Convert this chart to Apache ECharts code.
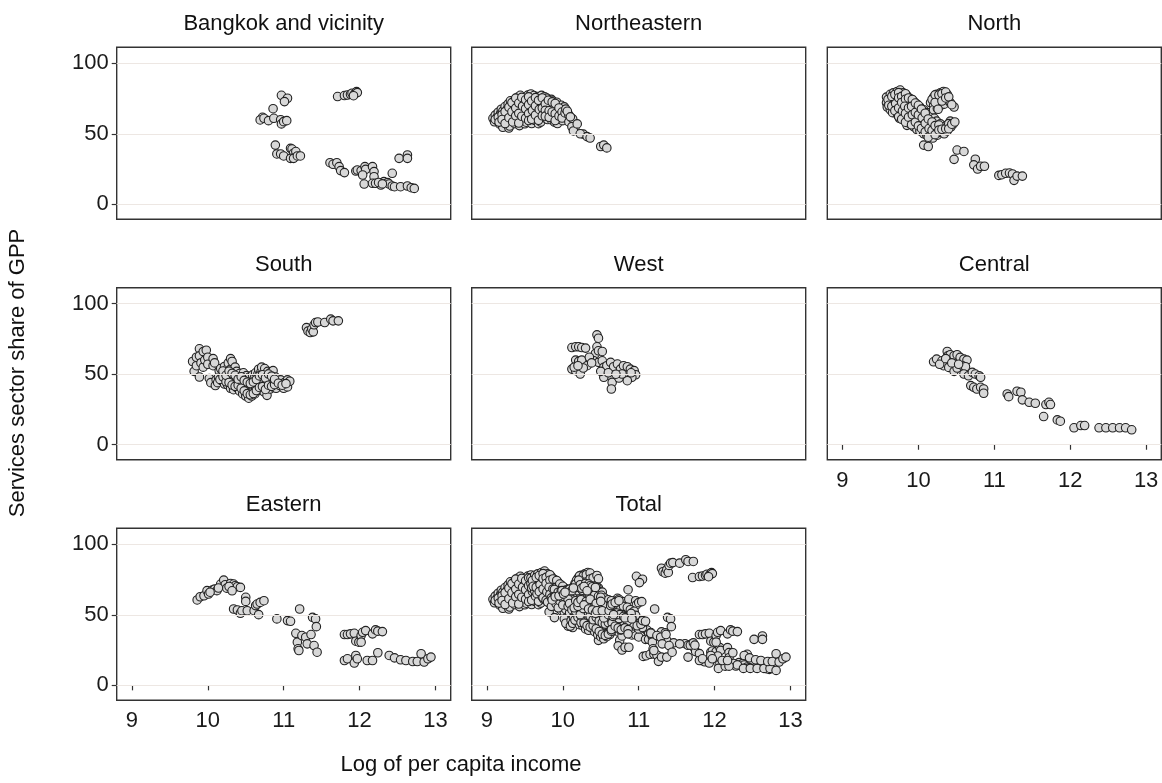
<!DOCTYPE html>
<html><head><meta charset="utf-8">
<script src="https://cdn.jsdelivr.net/npm/echarts@6/dist/echarts.min.js"></script>
<style>html,body{margin:0;padding:0;background:#fff}#c{width:1162px;height:783px}</style>
</head><body><div id="c"></div>
<script>
// ---- data ----
const panelTitles = ['Bangkok and vicinity','Northeastern','North','South','West','Central','Eastern','Total'];
const xTicks = [9,10,11,12,13];
const yTicks = [0,50,100];
const xTitle = 'Log of per capita income';
const yTitle = 'Services sector share of GPP';

const bangkok = [
[10.72,61.7],[10.69,59.8],[10.74,61],[10.80,59.3],[10.86,67.8],[10.87,61],[10.97,77.3],[11.05,75.2],[11.01,72.8],
[10.96,60],[10.97,57],[11.00,58.6],[11.04,59.3],[10.89,42],[10.91,35.7],[10.96,35.7],[11.00,34.3],[11.09,39.7],
[11.11,39.2],[11.13,36.2],[11.16,37.4],[11.09,32.6],[11.13,32.6],[11.18,34.3],[11.22,34.3],
[11.71,76.4],[11.80,77.1],[11.84,77.5],[11.88,78],[11.90,78.7],[11.93,78],[11.95,79.2],[11.96,79.9],[11.97,79.2],[11.92,77],
[11.61,29.5],[11.65,28.4],[11.70,29.5],[11.73,26.7],[11.75,23.9],[11.80,22.5],
[11.95,23.6],[11.97,24.3],[12.02,23.9],[12.07,26.7],[12.08,24.8],[12.04,20.8],[12.06,14.4],[12.17,26.7],[12.19,23.2],
[12.19,19.6],[12.17,14.9],[12.21,14.9],[12.28,13.7],[12.32,16.1],[12.37,15.4],[12.39,14.4],[12.43,13],[12.46,12.5],
[12.43,22],[12.52,32.6],[12.63,35],[12.63,32.6],[12.54,12.5],[12.63,13],[12.68,11.8],[12.72,11.3],[12.25,15.5],[12.30,14.5]
];

const northeastern = [
[9.08,61],[9.10,58.5],[9.11,63.2],[9.13,59.6],[9.14,62.1],[9.15,65.3],[9.17,60.4],[9.18,64.2],[9.19,67.4],[9.17,56.8],
[9.22,62.5],[9.21,66.1],[9.24,69.3],[9.23,58.2],[9.21,54.6],[9.26,64.4],[9.27,67.7],[9.28,71.2],[9.25,60.3],[9.27,56.4],[9.29,54.1],
[9.31,66.3],[9.32,70.2],[9.31,73.4],[9.33,62.2],[9.32,59.3],[9.30,55.5],[9.35,67.6],[9.36,71.3],[9.37,74.2],[9.34,64.1],[9.36,60.6],[9.37,57.2],
[9.39,69.5],[9.40,72.7],[9.41,76.1],[9.39,65.2],[9.40,61.3],[9.41,58.4],[9.43,70.3],[9.45,74.4],[9.44,77.3],[9.46,66.2],[9.44,63.1],[9.45,59.3],[9.43,55.8],
[9.48,68.4],[9.49,72.1],[9.50,75.6],[9.48,64.5],[9.49,60.3],[9.50,57.1],[9.53,70.2],[9.52,73.4],[9.54,77.4],[9.53,66.2],[9.55,62.4],[9.52,58.2],
[9.57,69.2],[9.58,75.3],[9.58,78.2],[9.57,65.1],[9.56,61.2],[9.59,57.3],[9.61,71.4],[9.62,74.2],[9.62,77.1],[9.60,67.4],[9.61,63.3],[9.63,59.5],
[9.66,68.2],[9.65,72.3],[9.67,76.4],[9.66,65.1],[9.67,61.3],[9.68,57.2],[9.70,70.4],[9.71,74.3],[9.72,77.2],[9.70,66.1],[9.69,62.4],[9.71,58.3],
[9.75,69.1],[9.74,73.2],[9.76,76.3],[9.75,65.2],[9.76,61.3],[9.79,68.4],[9.80,72.1],[9.79,75.3],[9.78,64.4],[9.80,60.1],
[9.84,67.3],[9.83,71.2],[9.85,74.4],[9.84,63.2],[9.85,59.8],[9.88,66.1],[9.89,70.3],[9.87,73.2],[9.88,62.4],[9.89,58.3],
[9.92,65.3],[9.93,69.1],[9.92,72.4],[9.91,61.2],[9.93,57.3],[9.97,64.1],[9.96,67.3],[9.98,70.2],[9.97,60.1],
[10.01,63.2],[10.02,66.4],[10.02,69.1],[10.00,59.3],
[9.11,60.2],[9.15,61.8],[9.16,58.3],[9.20,63.5],[9.20,60.1],[9.24,65.7],[9.24,57.3],[9.29,68.8],[9.29,61.4],[9.33,72.1],[9.33,65.6],
[9.34,58.4],[9.38,75.3],[9.38,68.2],[9.38,62.7],[9.42,71.8],[9.42,64.5],[9.42,57.6],[9.46,75.8],[9.47,69.6],[9.46,62.4],[9.51,74.1],
[9.51,67.8],[9.51,61.1],[9.55,76.2],[9.55,70.6],[9.55,64.3],[9.55,59.4],[9.59,73.2],[9.60,66.5],[9.59,60.3],[9.64,75.6],[9.64,69.8],
[9.64,63.2],[9.68,73.7],[9.69,67.3],[9.68,59.6],[9.73,75.4],[9.73,68.2],[9.73,62.8],[9.77,71.2],[9.77,66.6],[9.77,62.5],[9.81,73.8],
[9.82,66.3],[9.82,61.7],[9.86,72.6],[9.86,65.4],[9.90,71.5],[9.90,64.2],[9.90,59.4],[9.95,68.3],[9.95,62.6],[9.99,65.4],[9.99,61.2],
[10.03,64.8],[10.04,67.5],[10.08,63.4],[10.08,58.4],[10.16,54.3],[10.27,49.8],[10.13,60.6],
[10.06,66],[10.10,62],[10.12,55],[10.14,52],[10.19,57],[10.23,50],[10.32,48],[10.36,47],[10.50,41],[10.54,42],[10.58,40]
];

const north = [
[9.58,76],[9.58,72],[9.59,69],[9.63,78],[9.63,74],[9.62,71],[9.63,67],[9.67,79],[9.67,75],[9.68,72],[9.67,68],[9.66,65],
[9.72,80],[9.72,77],[9.72,73],[9.71,70],[9.72,66],[9.73,63],[9.76,81],[9.76,78],[9.76,74],[9.77,70],[9.76,67],[9.76,64],[9.75,61],
[9.80,79],[9.80,76],[9.81,72],[9.80,68],[9.80,65],[9.81,62],[9.85,77],[9.85,73],[9.85,70],[9.86,66],[9.85,63],[9.84,59],[9.85,56],
[9.89,75],[9.89,71],[9.89,68],[9.90,64],[9.89,61],[9.89,57],[9.94,73],[9.94,70],[9.94,66],[9.93,62],[9.94,59],[9.94,55],
[9.98,71],[9.98,68],[9.98,64],[9.99,60],[9.98,57],[9.98,53],[10.02,69],[10.02,65],[10.03,62],[10.02,58],[10.02,55],[10.02,52],
[10.07,67],[10.07,63],[10.07,60],[10.06,56],[10.07,53],[10.07,50],[10.11,65],[10.11,62],[10.11,58],[10.12,55],[10.11,52],[10.11,49],[10.07,42],
[10.16,72],[10.16,63],[10.16,60],[10.15,56],[10.16,53],[10.16,50],[10.13,41],
[10.20,76],[10.20,70],[10.20,67],[10.21,61],[10.20,57],[10.20,54],[10.20,51],[10.19,47],
[10.24,78],[10.24,74],[10.25,68],[10.24,59],[10.24,55],[10.24,52],[10.25,49],
[10.29,79],[10.29,76],[10.29,70],[10.29,57],[10.29,54],[10.28,51],[10.33,80],[10.33,77],[10.34,71],[10.33,55],[10.33,52],[10.34,50],
[10.38,78],[10.38,74],[10.37,56],[10.38,52],[10.42,72],[10.42,59],[10.43,55],[10.47,69],[10.46,57],
[9.60,74.3],[9.61,70.2],[9.65,76.5],[9.65,69.6],[9.69,77.8],[9.70,71.4],[9.69,66.4],[9.74,79.2],[9.74,75.5],[9.74,68.3],[9.74,62.2],
[9.78,76.5],[9.78,72.2],[9.79,66.2],[9.78,60.3],[9.83,78.4],[9.83,74.5],[9.82,69.5],[9.83,64.4],[9.83,58.2],[9.87,75.4],[9.87,68.3],
[9.87,61.8],[9.92,74.3],[9.91,69.4],[9.92,63.5],[9.91,56.4],[9.96,71.8],[9.96,65.2],[9.96,58.3],[10.00,70.2],[10.00,63.4],[10.00,55.6],
[10.04,67.5],[10.05,61.3],[10.04,53.8],[10.09,64.6],[10.09,57.4],[10.09,51.3],[10.13,60.5],[10.14,53.7],[10.13,47.6],[10.18,74.3],
[10.18,58.4],[10.18,52.4],[10.22,77.6],[10.22,72.2],[10.22,55.8],[10.22,49.4],[10.27,77.5],[10.26,67.4],[10.27,56.2],[10.27,52.6],
[10.31,78.4],[10.31,73.2],[10.31,53.2],[10.36,79.6],[10.36,75.4],[10.36,53.6],[10.40,76.2],[10.40,57.2],[10.40,53.6],[10.44,70.6],
[10.44,56.8],[10.48,58.4],
[10.51,38.5],[10.60,37.5],[10.47,31.9],[10.75,32],[10.73,28],[10.78,25],[10.82,27],[10.87,27],
[11.06,20.5],[11.10,21],[11.15,22],[11.20,22.2],[11.24,21.5],[11.26,17],[11.30,20],[11.37,20]
];

const south = [
[9.80,59],[9.82,52],[9.85,62],[9.85,56],[9.89,68],[9.89,63],[9.89,48],[9.91,58],[9.94,66],[9.94,55],[9.96,60],[9.98,67],
[10.00,62],[10.00,57],[10.02,47],[10.04,44],[10.07,61],[10.07,56],[10.09,58],[10.10,42],[10.11,46],
[10.14,48],[10.15,52.5],[10.13,44],[10.18,45.5],[10.19,50],[10.17,54],[10.22,43],[10.21,47.5],[10.23,51],[10.22,55.5],
[10.26,42.5],[10.27,46],[10.25,50.5],[10.26,54],[10.27,58],[10.30,40],[10.31,45.5],[10.29,49],[10.30,53.5],[10.30,61],[10.32,59],
[10.34,39],[10.35,43.5],[10.33,47],[10.34,51.5],[10.36,55],[10.38,40.5],[10.39,44],[10.37,48.5],[10.38,52],
[10.42,38],[10.43,42.5],[10.41,46],[10.42,50.5],[10.46,36],[10.47,40.5],[10.45,44],[10.46,48.5],[10.47,51],
[10.50,34.5],[10.51,38],[10.49,42.5],[10.50,46],[10.51,49],[10.54,33],[10.55,37.5],[10.53,41],[10.54,45.5],[10.55,48],
[10.58,34.5],[10.59,38],[10.57,42.5],[10.58,46],[10.59,49.5],[10.62,36],[10.63,40.5],[10.61,44],[10.62,48.5],[10.63,51],
[10.66,38.5],[10.67,42],[10.65,46.5],[10.66,50],[10.67,53.5],[10.70,39],[10.71,43.5],[10.69,47],[10.70,51.5],[10.71,55],
[10.74,37.5],[10.75,41],[10.73,45.5],[10.74,49],[10.75,54],[10.78,35],[10.79,40.5],[10.77,44],[10.78,48.5],[10.79,52],
[10.82,39.5],[10.83,43],[10.81,47.5],[10.82,51],[10.86,41],[10.87,45.5],[10.85,49],[10.86,52.5],[10.90,40],[10.91,44.5],[10.89,48],
[10.95,42],[10.96,46],[11.00,40],[11.01,44],[11.05,41],[11.05,46],[11.08,45],
[10.16,46.3],[10.20,48.2],[10.20,52.3],[10.24,44.6],[10.24,49.2],[10.28,44.1],[10.28,52.2],[10.32,42.3],[10.32,50.6],[10.36,41.4],
[10.36,49.2],[10.40,42.2],[10.40,46.5],[10.44,40.1],[10.44,48.2],[10.48,38.2],[10.48,45.6],[10.52,36.2],[10.52,44.4],[10.56,35.4],
[10.56,43.4],[10.60,36.3],[10.60,44.5],[10.64,38.4],[10.64,46.2],[10.68,40.6],[10.68,48.8],[10.72,41.2],[10.72,49.6],[10.76,39.2],
[10.76,47.3],[10.80,42.2],[10.80,50.1],[10.84,41.4],[10.84,48.6],[10.88,42.6],[10.88,46.4],[10.93,43.6],[10.98,42.2],[11.03,43.3],
[11.30,83],[11.32,80.5],[11.35,79.5],[11.37,82],[11.39,80],[11.40,85],[11.42,86.6],[11.45,87],[11.54,86.6],[11.62,89],[11.65,87.8],[11.72,87.8]
];

const west = [
[10.12,68.9],[10.17,69.4],[10.21,69.4],[10.25,68.9],[10.30,68.5],[10.45,77.9],[10.47,75.5],[10.45,69.4],[10.43,64.7],[10.47,66.6],
[10.52,66.1],[10.17,60],[10.21,59.1],[10.25,60],[10.12,53.6],[10.17,52.5],[10.23,50.1],[10.32,56],[10.27,54.4],[10.41,59.5],
[10.47,58.4],[10.52,59.5],[10.54,54.8],[10.58,56],[10.63,58.4],[10.67,55.3],[10.72,57.2],[10.76,53.6],[10.80,56],[10.85,55.3],
[10.89,53.6],[10.94,52.5],[10.96,49.6],[10.91,47.8],[10.85,45.4],[10.63,48.9],[10.54,47.8],[10.65,44.2],[10.64,39.5],[10.74,47.3],
[10.78,50.1],[10.35,62],[10.38,58],[10.50,52],[10.60,51],[10.70,50],[10.90,51],[10.15,55],[10.20,56]
];

const central = [
[10.20,58.8],[10.24,60.7],[10.31,59.5],[10.33,56],[10.38,66.1],[10.39,63.1],[10.42,63.8],[10.47,63.1],[10.51,63.8],[10.55,61.9],
[10.60,60.7],[10.64,60],[10.40,54.8],[10.47,52],[10.51,54.4],[10.58,56],[10.62,55.3],[10.60,50.1],[10.66,48.9],[10.71,51.3],
[10.75,50.1],[10.80,48.9],[10.82,47.8],[10.69,41.9],[10.73,40.7],[10.77,39.5],[10.82,40.7],[10.86,39.5],[10.86,36.5],
[10.28,57],[10.36,61],[10.44,58],[10.53,57],
[11.17,36],[11.19,34.1],[11.30,37.9],[11.35,37.2],[11.37,31.8],[11.46,30.1],[11.54,29.4],[11.68,28.5],[11.72,30.1],[11.74,28.5],
[11.65,20],[11.83,17.6],[11.87,16.7],[12.05,12],[12.14,13.6],[12.19,13.6],[12.38,12],[12.47,12],[12.56,12],[12.65,12],[12.73,12],[12.81,10.6]
];

const eastern = [
[9.86,60.5],[9.90,62.8],[9.95,63.5],[9.99,67.1],[10.01,64.7],[10.06,67.5],[10.09,68.2],[10.12,67.1],[10.17,71.8],[10.21,74.6],
[10.23,71.3],[10.25,68.9],[10.30,72.2],[10.34,71.8],[10.36,70.6],[10.39,69.9],[10.43,69.4],[10.03,66],[10.14,69],[10.28,70],[10.32,67],
[10.34,54.1],[10.39,53.4],[10.43,51.1],[10.45,52.9],[10.50,62.4],[10.50,59.5],[10.52,52.9],[10.61,52.9],[10.63,56.5],[10.65,57.6],
[10.67,50.1],[10.69,58.8],[10.74,60],[10.91,47.1],[11.05,45.9],[11.09,45.4],[11.21,54.1],[11.16,36.9],[11.18,30.6],[11.19,25.9],
[11.20,24.7],[11.24,35.3],[11.29,34.1],[11.31,29.4],[11.36,36],[11.38,48.2],[11.40,28.2],[11.42,47.1],[11.43,41.6],[11.44,23.5],
[11.80,36],[11.84,36],[11.88,36.5],[11.93,36.9],[11.95,31.3],[11.99,30.6],[12.02,35.3],[12.04,37.6],[12.08,38.8],[12.17,36.5],
[12.21,39.3],[12.24,38.4],[12.30,38.1],[12.02,30.6],
[11.80,17.6],[11.84,18.8],[11.93,15.8],[11.95,21.2],[11.97,18.8],[12.10,17.6],[12.17,17.6],[12.24,23.1],[12.39,21.2],[12.46,19.5],
[12.54,18.1],[12.61,17.6],[12.70,16.9],[12.76,16.9],[12.81,22.4],[12.85,16.5],[12.90,18.8],[12.94,20]
];

const total = [].concat(bangkok, northeastern, north, south, west, central, eastern);
const panelData = [bangkok, northeastern, north, south, west, central, eastern, total];

// ---- layout ----
const FONT = '"Liberation Sans", Arial, Helvetica, sans-serif';
const colLeft = [116.7, 471.7, 827.3];
const rowTop = [47.3, 287.7, 528.3];
const W = 334, H = 172;
const pos = [[0,0],[0,1],[0,2],[1,0],[1,1],[1,2],[2,0],[2,1]];
const showX = [false,false,false,false,false,true,true,true];
const showY = [true,false,false,true,false,false,true,false];

const grids = [], xAxes = [], yAxes = [], series = [], graphics = [];
pos.forEach((p, i) => {
  const left = colLeft[p[1]], top = rowTop[p[0]];
  grids.push({left: left, top: top, width: W, height: H, show: true, borderColor: '#333', borderWidth: 1.4, backgroundColor: 'transparent', containLabel: false});
  xAxes.push({type: 'value', gridIndex: i, min: 8.8, max: 13.2,
    axisLine: {show: false}, splitLine: {show: false},
    axisTick: {show: showX[i], customValues: xTicks, length: 5, lineStyle: {color: '#333', width: 1.2}},
    axisLabel: {show: showX[i], customValues: xTicks, margin: 10, fontSize: 22, color: '#1a1a1a', fontFamily: FONT}
  });
  yAxes.push({type: 'value', gridIndex: i, min: -10.6, max: 111.3,
    axisLine: {show: false}, splitLine: {show: false},
    axisTick: {show: showY[i], customValues: yTicks, length: 5, lineStyle: {color: '#333', width: 1.2}},
    axisLabel: {show: showY[i], customValues: yTicks, margin: 8, fontSize: 22, color: '#1a1a1a', fontFamily: FONT}
  });
  series.push({type: 'scatter', xAxisIndex: i, yAxisIndex: i, data: [], silent: true, z: 1,
    markLine: {silent: true, symbol: ['none','none'], label: {show: false}, animation: false,
      lineStyle: {color: '#ede7e3', width: 1.2, type: 'solid'},
      data: yTicks.map(v => ({yAxis: v}))}
  });
  series.push({type: 'scatter', xAxisIndex: i, yAxisIndex: i, data: panelData[i], z: 3,
    symbol: 'circle', symbolSize: 8.5,
    itemStyle: {color: '#d8d8d8', borderColor: '#222', borderWidth: 1.1, opacity: 1}
  });
  graphics.push({type: 'text', x: left + W/2, y: top - 23, style: {text: panelTitles[i], align: 'center', verticalAlign: 'middle', fontSize: 22, fontFamily: FONT, fill: '#111'}});
});
graphics.push({type: 'text', x: 461, y: 765, style: {text: xTitle, align: 'center', verticalAlign: 'middle', fontSize: 22, fontFamily: FONT, fill: '#111'}});
graphics.push({type: 'text', x: 18, y: 373, rotation: Math.PI/2, style: {text: yTitle, align: 'center', verticalAlign: 'middle', fontSize: 22, fontFamily: FONT, fill: '#111'}});

const chart = echarts.init(document.getElementById('c'), null, {renderer: 'canvas'});
chart.setOption({animation: false, grid: grids, xAxis: xAxes, yAxis: yAxes, series: series, graphic: graphics});
</script>
</body></html>
